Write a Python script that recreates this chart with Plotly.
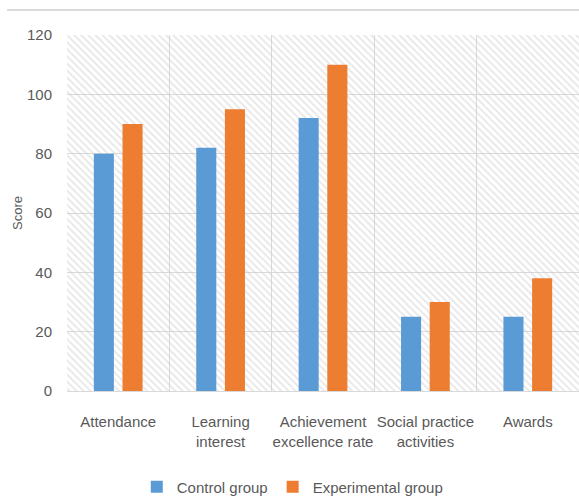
import plotly.graph_objects as go

categories = ["Attendance", "Learning<br>interest", "Achievement<br>excellence rate",
              "Social practice<br>activities", "Awards"]
control = [80, 82, 92, 25, 25]
experimental = [90, 95, 110, 30, 38]
y_ticks = [0, 20, 40, 60, 80, 100, 120]

FONT = "Liberation Sans Narrow, Liberation Sans, Arial, sans-serif"
GRAY = "#595959"

fig = go.Figure()

# hatched plot-area background (on the base x axis, drawn beneath the bars)
fig.add_trace(go.Bar(
    x=[0.5], y=[120], width=[1], xaxis="x", yaxis="y",
    marker=dict(color="rgba(0,0,0,0)", line=dict(width=0),
                pattern=dict(shape="\\", fgcolor="#d0d0d0", bgcolor="rgba(0,0,0,0)",
                             size=5, solidity=0.35)),
    showlegend=False, hoverinfo="skip"))

fig.add_trace(go.Bar(name="Control group", x=categories, y=control, xaxis="x2",
                     marker=dict(color="#5b9bd5", line=dict(width=0))))
fig.add_trace(go.Bar(name="Experimental group", x=categories, y=experimental, xaxis="x2",
                     marker=dict(color="#ed7d31", line=dict(width=0))))

fig.update_layout(
    width=579, height=497,
    margin=dict(l=67, r=0, t=35, b=106, autoexpand=False),
    paper_bgcolor="white", plot_bgcolor="white",
    barmode="group", bargap=0.44, bargroupgap=0.3,
    font=dict(family=FONT, color=GRAY, size=14),
    xaxis=dict(range=[0, 1], visible=False, showgrid=False, zeroline=False,
               automargin=False),
    xaxis2=dict(type="category", overlaying="x", side="bottom", anchor="y",
                tickson="boundaries", showgrid=True, automargin=False, tickangle=0,
                gridcolor="#d9d9d9", gridwidth=1, ticks="", showline=True,
                linecolor="#d9d9d9", tickfont=dict(size=15, color=GRAY),
                ticklabelstandoff=17, range=[-0.5, 4.5]),
    yaxis=dict(range=[0, 120], tickvals=y_ticks, showgrid=True, gridcolor="#d9d9d9",
               gridwidth=1, zeroline=False, showline=False, ticks="", automargin=False,
               tickfont=dict(size=15, color=GRAY), ticklabelstandoff=14,
               title=dict(text="Score", font=dict(size=13, color=GRAY), standoff=1)),
    legend=dict(orientation="h", x=0.44, xanchor="center", y=-0.27, yanchor="middle",
                font=dict(size=15, color=GRAY), traceorder="normal"),
    shapes=[dict(type="line", xref="paper", yref="paper", x0=-0.117, x1=1,
                 y0=1.07, y1=1.07, line=dict(color="#d9d9d9", width=2))],
)

fig.write_html("out.html")
